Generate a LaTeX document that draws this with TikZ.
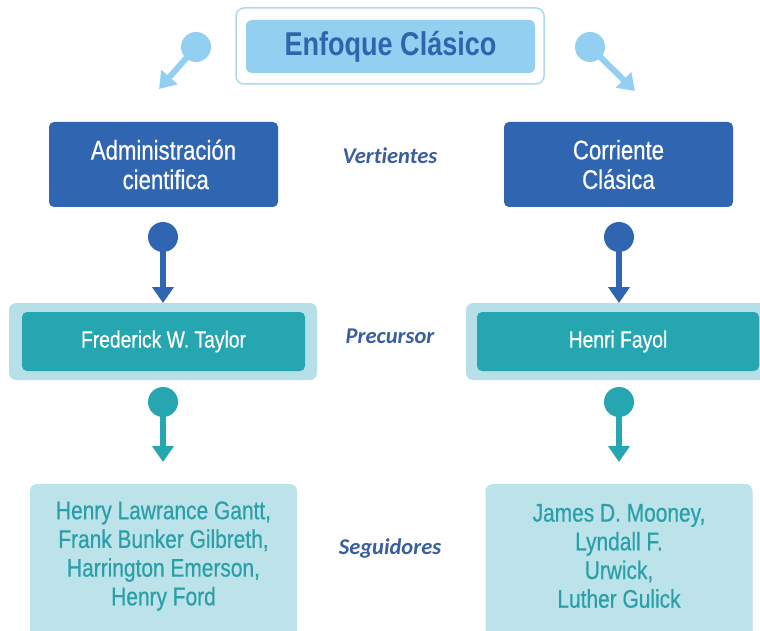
\documentclass[tikz,border=0pt]{standalone}
\usepackage{fontspec}
\setmainfont{Liberation Sans}
\newfontfamily\cond[FakeStretch=0.82]{Liberation Sans}
\newfontfamily\condmed[FakeStretch=0.82,FakeBold=0.5]{Liberation Sans}
\newfontfamily\lbl[Ligatures=NoCommon]{Carlito}
\usetikzlibrary{arrows.meta}
\definecolor{darkb}{HTML}{2F65B1}
\definecolor{titletxt}{HTML}{2E66AE}
\definecolor{lightb}{HTML}{93CFF1}
\definecolor{lightbord}{HTML}{ABD9F1}
\definecolor{teal}{HTML}{26A6B0}
\definecolor{tealout}{HTML}{B7DFE8}
\definecolor{paleb}{HTML}{BCE2EA}
\definecolor{paletxt}{HTML}{2A9FA8}
\definecolor{lbltxt}{HTML}{3A5E9F}
\tikzset{
  x=1pt, y=-1pt,
  box/.style={inner sep=0pt, outer sep=0pt, rounded corners=5pt},
  darkbox/.style={box, fill=darkb, text=white, minimum width=229pt, minimum height=85pt,
     align=center, font=\condmed\fontsize{27}{29.5}\selectfont},
  tealouter/.style={box, fill=tealout, minimum width=308pt, minimum height=77pt, rounded corners=7pt},
  tealinner/.style={box, fill=teal, text=white, minimum height=59pt,
     font=\condmed\fontsize{23.5}{26}\selectfont},
  palebox/.style={box, fill=paleb, minimum width=267pt, minimum height=160pt, rounded corners=7pt},
  paletext/.style={align=center, text=paletxt, inner sep=0pt, font=\condmed\fontsize{25.5}{28.7}\selectfont},
  sidelabel/.style={text=lbltxt, inner sep=0pt, font=\lbl\bfseries\itshape\fontsize{22.5}{26}\selectfont},
  pinline/.style={line width=6pt, -{Triangle[width=21pt,length=16pt]}},
  pindot/.style={circle, inner sep=0pt, minimum size=30pt},
}
\begin{document}
\begin{tikzpicture}
\useasboundingbox (0,0) rectangle (760,631);
\clip (0,0) rectangle (760,631);
\fill[white] (0,0) rectangle (760,631);

% title
\node[box, draw=lightbord, line width=1.5pt, fill=white, rounded corners=8pt,
      minimum width=308pt, minimum height=76pt] (tout) at (390,46) {};
\node[box, fill=lightb, rounded corners=6pt, minimum width=289pt, minimum height=53pt,
      text=titletxt, font=\cond\bfseries\fontsize{33}{36}\selectfont] (title) at (390.5,46.5) {Enfoque Clásico};

% top pins
\node[pindot, fill=lightb] (pl) at (196,47) {};
\coordinate (plt) at (159,89);
\draw[pinline, lightb] (pl.center) -- (plt);
\node[pindot, fill=lightb] (pr) at (590,47) {};
\coordinate (prt) at (635,91);
\draw[pinline, lightb] (pr.center) -- (prt);

% vertientes
\node[darkbox] (adm) at (163.5,164.5) {Administración\\ \,cientifica};
\node[darkbox] (cor) at (618.5,164.5) {Corriente\\Clásica};
\node[sidelabel] (vert) at (390,156) {Vertientes};

% blue pins
\node[pindot, fill=darkb] (bl) at (163,237) {};
\node[pindot, fill=darkb] (br) at (619,237) {};

% precursor
\node[tealouter] (tlo) at (163,341.5) {};
\node[tealinner, minimum width=283pt] (taylor) at (163.5,341.5) {Frederick W. Taylor};
\node[tealouter] (tro) at (620,341.5) {};
\node[tealinner, minimum width=282pt] (fayol) at (618,341.5) {Henri Fayol};
\node[sidelabel] (prec) at (390,336) {Precursor};

\draw[pinline, darkb] (bl.center) -- (bl.center |- tlo.north);
\draw[pinline, darkb] (br.center) -- (br.center |- tro.north);

% teal pins
\node[pindot, fill=teal] (gl) at (163,402) {};
\node[pindot, fill=teal] (gr) at (619,402) {};

% seguidores
\node[palebox] (sl) at (163.5,564) {};
\node[palebox] (sr) at (619,564) {};
\node[paletext] (slt) at (163.5,556) {Henry Lawrance Gantt,\\Frank Bunker Gilbreth,\\Harrington Emerson,\\Henry Ford};
\node[paletext] (srt) at (619,556) {James D. Mooney,\\Lyndall F.\\Urwick,\\Luther Gulick};
\node[sidelabel] (seg) at (390,548) {Seguidores};

\coordinate (glt) at (163,462);
\coordinate (grt) at (619,462);
\draw[pinline, teal] (gl.center) -- (glt);
\draw[pinline, teal] (gr.center) -- (grt);
\end{tikzpicture}
\end{document}
